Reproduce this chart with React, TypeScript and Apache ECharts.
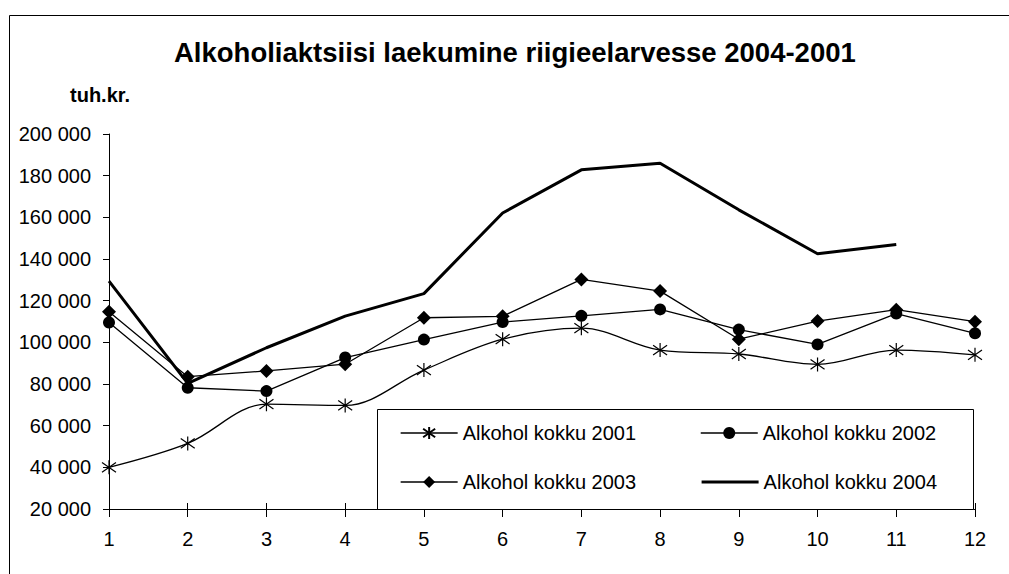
import React, { useEffect, useRef } from "react";
import * as echarts from "echarts";

const titleText = "Alkoholiaktsiisi laekumine riigieelarvesse 2004-2001";
const unitText = "tuh.kr.";
const months = ["1", "2", "3", "4", "5", "6", "7", "8", "9", "10", "11", "12"];
const seriesNames = ["Alkohol kokku 2001", "Alkohol kokku 2002", "Alkohol kokku 2003", "Alkohol kokku 2004"];
const s2001 = [40000, 51500, 70300, 69700, 86700, 101500, 106800, 96300, 94400, 89400, 96300, 94000];
const s2002 = [109500, 78200, 76600, 92700, 101300, 109700, 112700, 115800, 106100, 99000, 113800, 104300];
const s2003 = [114700, 83500, 86300, 89500, 111800, 112500, 130200, 124600, 101500, 110200, 115700, 109900];
const s2004 = [129400, 80300, 97400, 112600, 123400, 162100, 182800, 186000, 163600, 142500, 147000, null];
const yMin = 20000;
const yMax = 200000;
const yStep = 20000;

const FONT = "'Liberation Sans', Arial, sans-serif";
const STAR = "path://M5 0 L5 10 M0.7 1.5 L9.3 8.5 M0.7 8.5 L9.3 1.5";

function fmt(v: number) {
  return String(v).replace(/\B(?=(\d{3})+(?!\d))/g, " ");
}

export default function App() {
  const ref = useRef<HTMLDivElement>(null);
  useEffect(() => {
    if (!ref.current) return;
    const chart = echarts.init(ref.current, null, { renderer: "svg" });
    const legendCommon = {
      orient: "horizontal",
      padding: 0,
      itemWidth: 57,
      itemHeight: 15,
      itemGap: 64,
      z: 10,
      lineStyle: { width: "inherit" },
      textStyle: { fontSize: 20, fontFamily: FONT, color: "#000", lineHeight: 20 },
    };
    chart.setOption({
      animation: false,
      backgroundColor: "#fff",
      title: {
        text: titleText,
        left: 174,
        top: 38,
        padding: 0,
        textStyle: { fontSize: 27.5, fontWeight: "bold", fontFamily: FONT, color: "#000" },
      },
      legend: [
        { ...legendCommon, data: [seriesNames[0], seriesNames[1]], left: 400, top: 423 },
        {
          ...legendCommon,
          data: [
            seriesNames[2],
            {
              name: seriesNames[3],
              itemStyle: { color: "rgba(0,0,0,0)", borderColor: "rgba(0,0,0,0)", borderWidth: 0 },
            },
          ],
          left: 400,
          top: 472,
        },
      ],
      graphic: [
        {
          type: "rect",
          shape: { x: 9.5, y: 15.5, width: 1200, height: 800 },
          style: { fill: "none", stroke: "#000", lineWidth: 1 },
          z: 0,
          silent: true,
        },
        {
          type: "rect",
          shape: { x: 377.5, y: 409.5, width: 596, height: 100 },
          style: { fill: "#fff", stroke: "#000", lineWidth: 1 },
          z: 5,
          silent: true,
        },
        {
          type: "text",
          x: 100,
          y: 95,
          style: {
            text: unitText,
            fill: "#000",
            font: "bold 20px " + FONT,
            textAlign: "center",
            textVerticalAlign: "middle",
          },
          z: 5,
        },
      ],
      grid: { left: 109, right: 34, top: 134, bottom: 65 },
      xAxis: [
        {
          type: "category",
          data: months,
          boundaryGap: false,
          axisLine: { lineStyle: { color: "#000", width: 1 } },
          axisTick: { show: true, length: 8, lineStyle: { color: "#000" } },
          axisLabel: { fontSize: 20, fontFamily: FONT, color: "#000", margin: 20 },
          splitLine: { show: false },
        },
        {
          type: "category",
          data: months,
          boundaryGap: false,
          position: "bottom",
          axisLine: { show: false },
          axisTick: { show: true, inside: true, length: 6, lineStyle: { color: "#000" } },
          axisLabel: { show: false },
          splitLine: { show: false },
        },
      ],
      yAxis: {
        type: "value",
        min: yMin,
        max: yMax,
        interval: yStep,
        axisLine: { show: true, lineStyle: { color: "#000", width: 1 } },
        axisTick: { show: true, length: 6, lineStyle: { color: "#000" } },
        axisLabel: {
          fontSize: 20,
          fontFamily: FONT,
          color: "#000",
          margin: 18,
          formatter: (v: number) => fmt(v),
        },
        splitLine: { show: false },
      },
      series: [
        {
          name: seriesNames[0],
          type: "line",
          data: s2001,
          smooth: 0.35,
          symbol: STAR,
          symbolSize: 14,
          showAllSymbol: true,
          lineStyle: { color: "#000", width: 1.3 },
          itemStyle: { color: "none", borderColor: "#000", borderWidth: 1.2 },
          z: 2,
        },
        {
          name: seriesNames[1],
          type: "line",
          data: s2002,
          symbol: "circle",
          symbolSize: 12,
          lineStyle: { color: "#000", width: 1.3 },
          itemStyle: { color: "#000" },
          z: 3,
        },
        {
          name: seriesNames[2],
          type: "line",
          data: s2003,
          symbol: "diamond",
          symbolSize: 14,
          lineStyle: { color: "#000", width: 1.3 },
          itemStyle: { color: "#000" },
          z: 3,
        },
        {
          name: seriesNames[3],
          type: "line",
          data: s2004,
          symbol: "none",
          lineStyle: { color: "#000", width: 3 },
          itemStyle: { color: "#000" },
          z: 4,
        },
      ],
    });
    return () => chart.dispose();
  }, []);
  return (
    <div
      ref={ref}
      style={{ position: "fixed", left: 0, top: 0, width: 1009, height: 574, background: "#fff" }}
    />
  );
}
